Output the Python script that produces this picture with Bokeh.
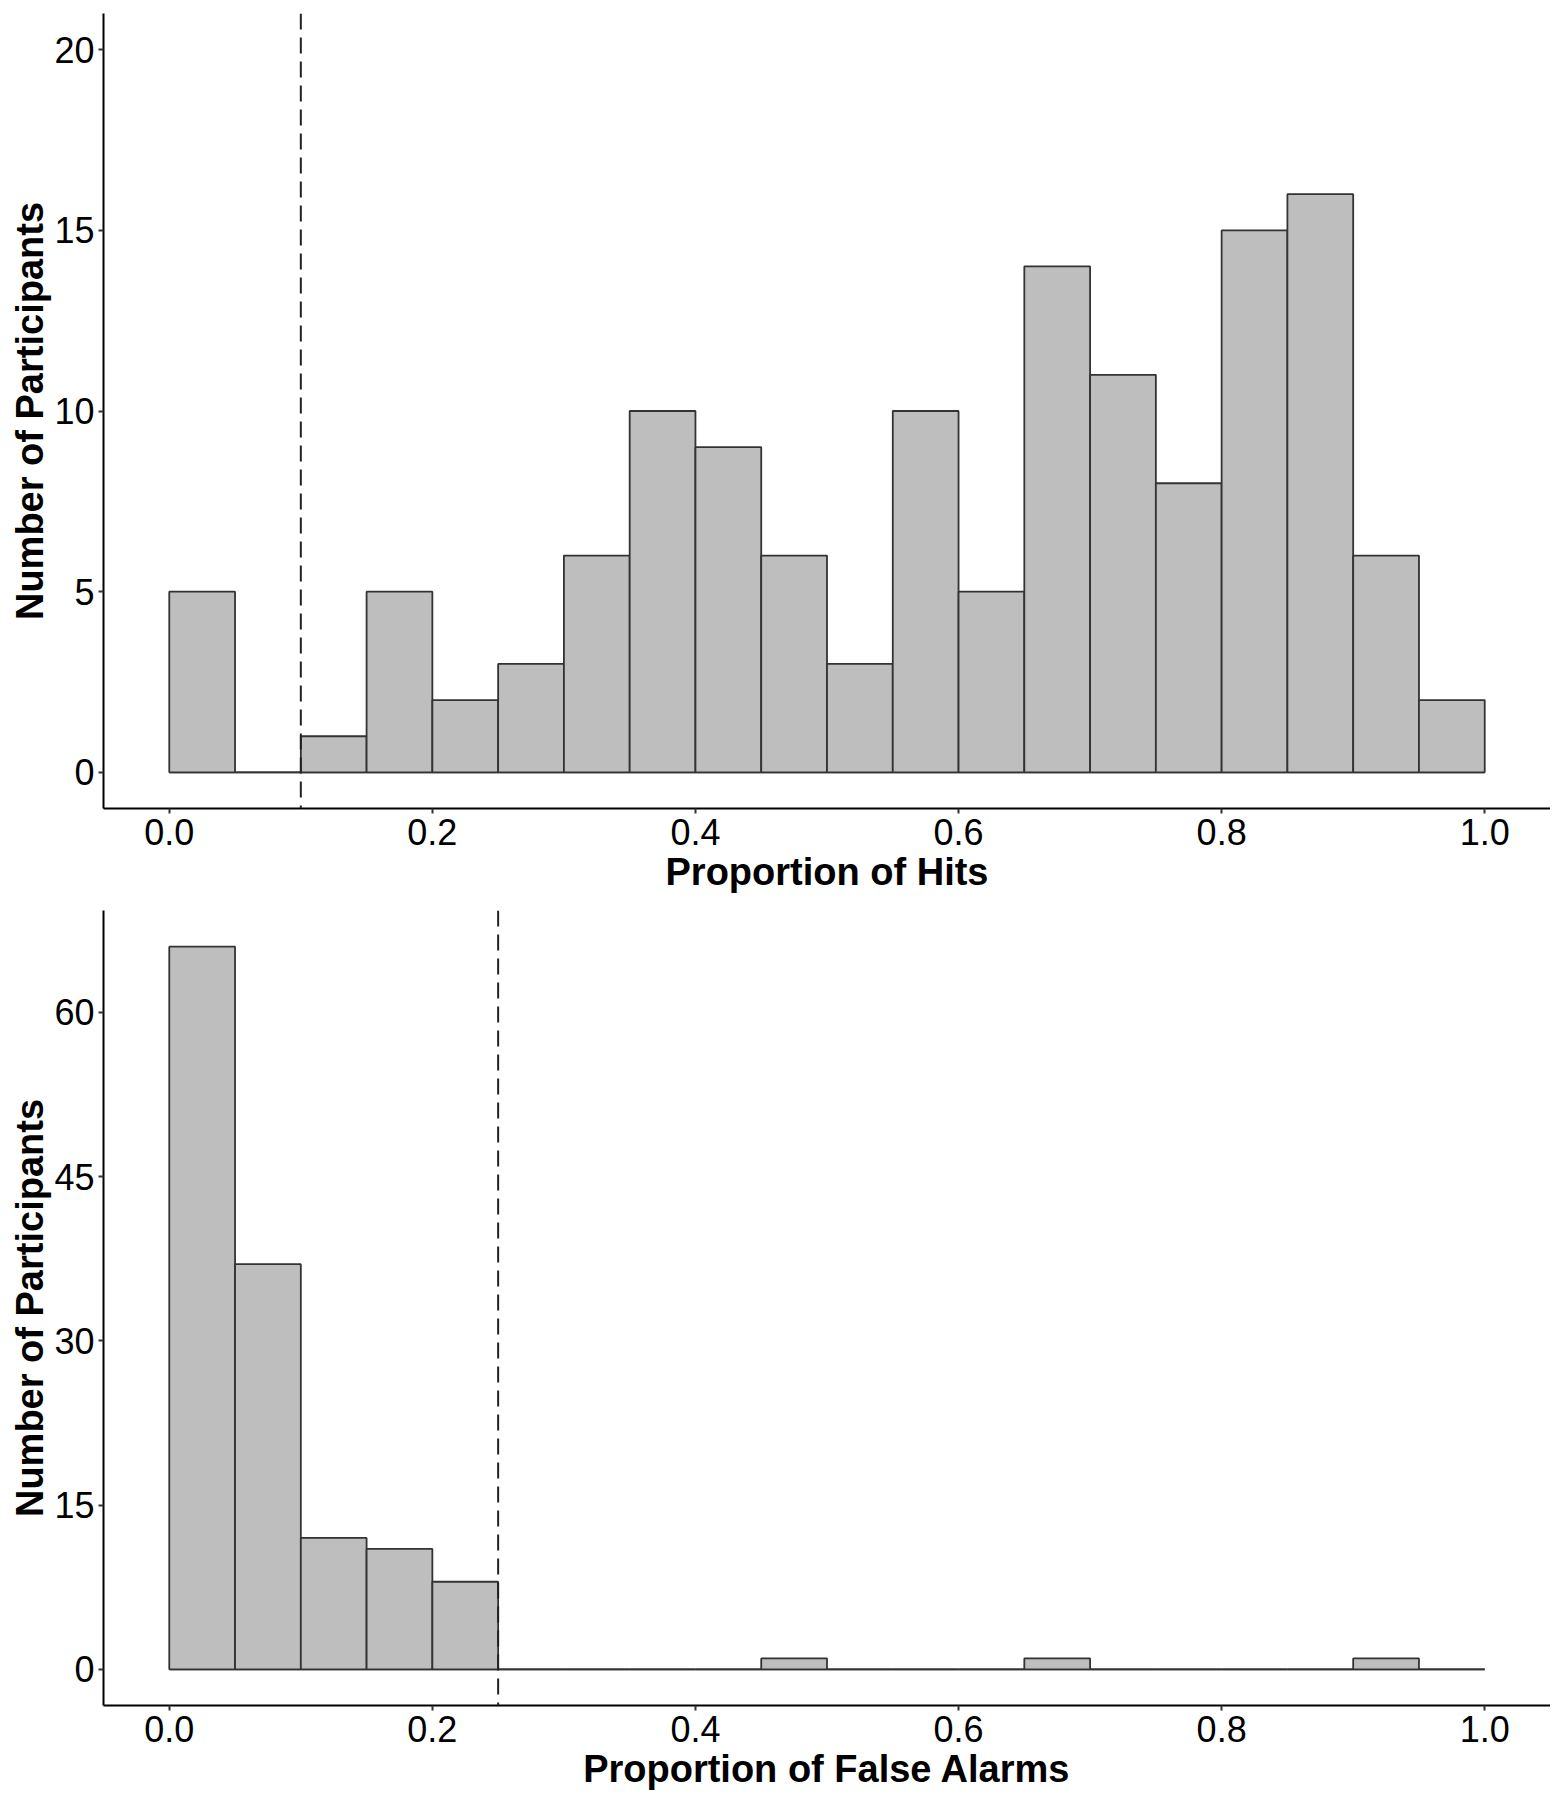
from bokeh.plotting import figure
from bokeh.layouts import column
from bokeh.models import Span, FixedTicker
from bokeh.embed import file_html
from bokeh.resources import INLINE

# ---- data ----
bin_edges = [round(i * 0.05, 2) for i in range(21)]
hits_counts = [5, 0, 1, 5, 2, 3, 6, 10, 9, 6, 3, 10, 5, 14, 11, 8, 15, 16, 6, 2]
fa_counts = [66, 37, 12, 11, 8, 0, 0, 0, 0, 1, 0, 0, 0, 1, 0, 0, 0, 0, 1, 0]
hits_cutoff = 0.1
fa_cutoff = 0.25
x_ticks = [0.0, 0.2, 0.4, 0.6, 0.8, 1.0]
x_tick_labels = ["0.0", "0.2", "0.4", "0.6", "0.8", "1.0"]
hits_y_ticks = [0, 5, 10, 15, 20]
fa_y_ticks = [0, 15, 30, 45, 60]
hits_xlabel = "Proportion of Hits"
fa_xlabel = "Proportion of False Alarms"
ylabel = "Number of Participants"

FONT = "Liberation Sans"
TICK_FS = "36px"
TITLE_FS = "38px"


def make_panel(counts, cutoff, y_ticks, y_range, xlabel, height, border_top, border_bottom):
    p = figure(width=1550, height=height, x_range=(-0.05, 1.05), y_range=y_range,
               output_backend="svg", toolbar_location=None,
               min_border_left=103, min_border_right=0,
               min_border_top=border_top, min_border_bottom=border_bottom)
    p.outline_line_color = None
    p.xgrid.visible = False
    p.ygrid.visible = False
    p.background_fill_color = "white"
    p.border_fill_color = "white"

    left = bin_edges[:-1]
    right = bin_edges[1:]
    zeros = [0] * len(counts)
    p.segment(x0=left, x1=right, y0=zeros, y1=zeros, line_color="#333333", line_width=1.8)
    p.quad(left=left, right=right, bottom=zeros, top=counts,
           fill_color="#bebebe", line_color="#333333", line_width=1.8)

    p.add_layout(Span(location=cutoff, dimension="height", line_color="#222222",
                      line_width=2, line_dash="16 8"))

    p.xaxis.ticker = FixedTicker(ticks=x_ticks)
    p.xaxis.major_label_overrides = {t: l for t, l in zip(x_ticks, x_tick_labels)}
    p.yaxis.ticker = FixedTicker(ticks=y_ticks)
    p.yaxis.major_label_overrides = {t: str(t) for t in y_ticks}

    for ax in (p.xaxis[0], p.yaxis[0]):
        ax.axis_line_color = "black"
        ax.axis_line_width = 2
        ax.major_tick_line_color = "#333333"
        ax.major_tick_line_width = 2
        ax.major_tick_out = 5
        ax.major_tick_in = 0
        ax.minor_tick_line_color = None
        ax.major_label_text_font = FONT
        ax.major_label_text_font_size = TICK_FS
        ax.major_label_text_color = "black"
        ax.axis_label_text_font = FONT
        ax.axis_label_text_font_size = TITLE_FS
        ax.axis_label_text_font_style = "bold"
        ax.axis_label_text_color = "black"

    p.xaxis.axis_label = xlabel
    p.yaxis.axis_label = ylabel
    p.xaxis.major_label_standoff = 5
    p.xaxis.axis_label_standoff = 3
    p.yaxis.major_label_standoff = 4
    p.yaxis.axis_label_standoff = 0
    return p


p1 = make_panel(hits_counts, hits_cutoff, hits_y_ticks, (-1, 21), hits_xlabel, 903, 13, 95)
p2 = make_panel(fa_counts, fa_cutoff, fa_y_ticks, (-3.3, 69.3), fa_xlabel, 893, 7, 91)

layout = column(p1, p2, spacing=0)
open("out.html", "w").write(file_html(layout, INLINE))
